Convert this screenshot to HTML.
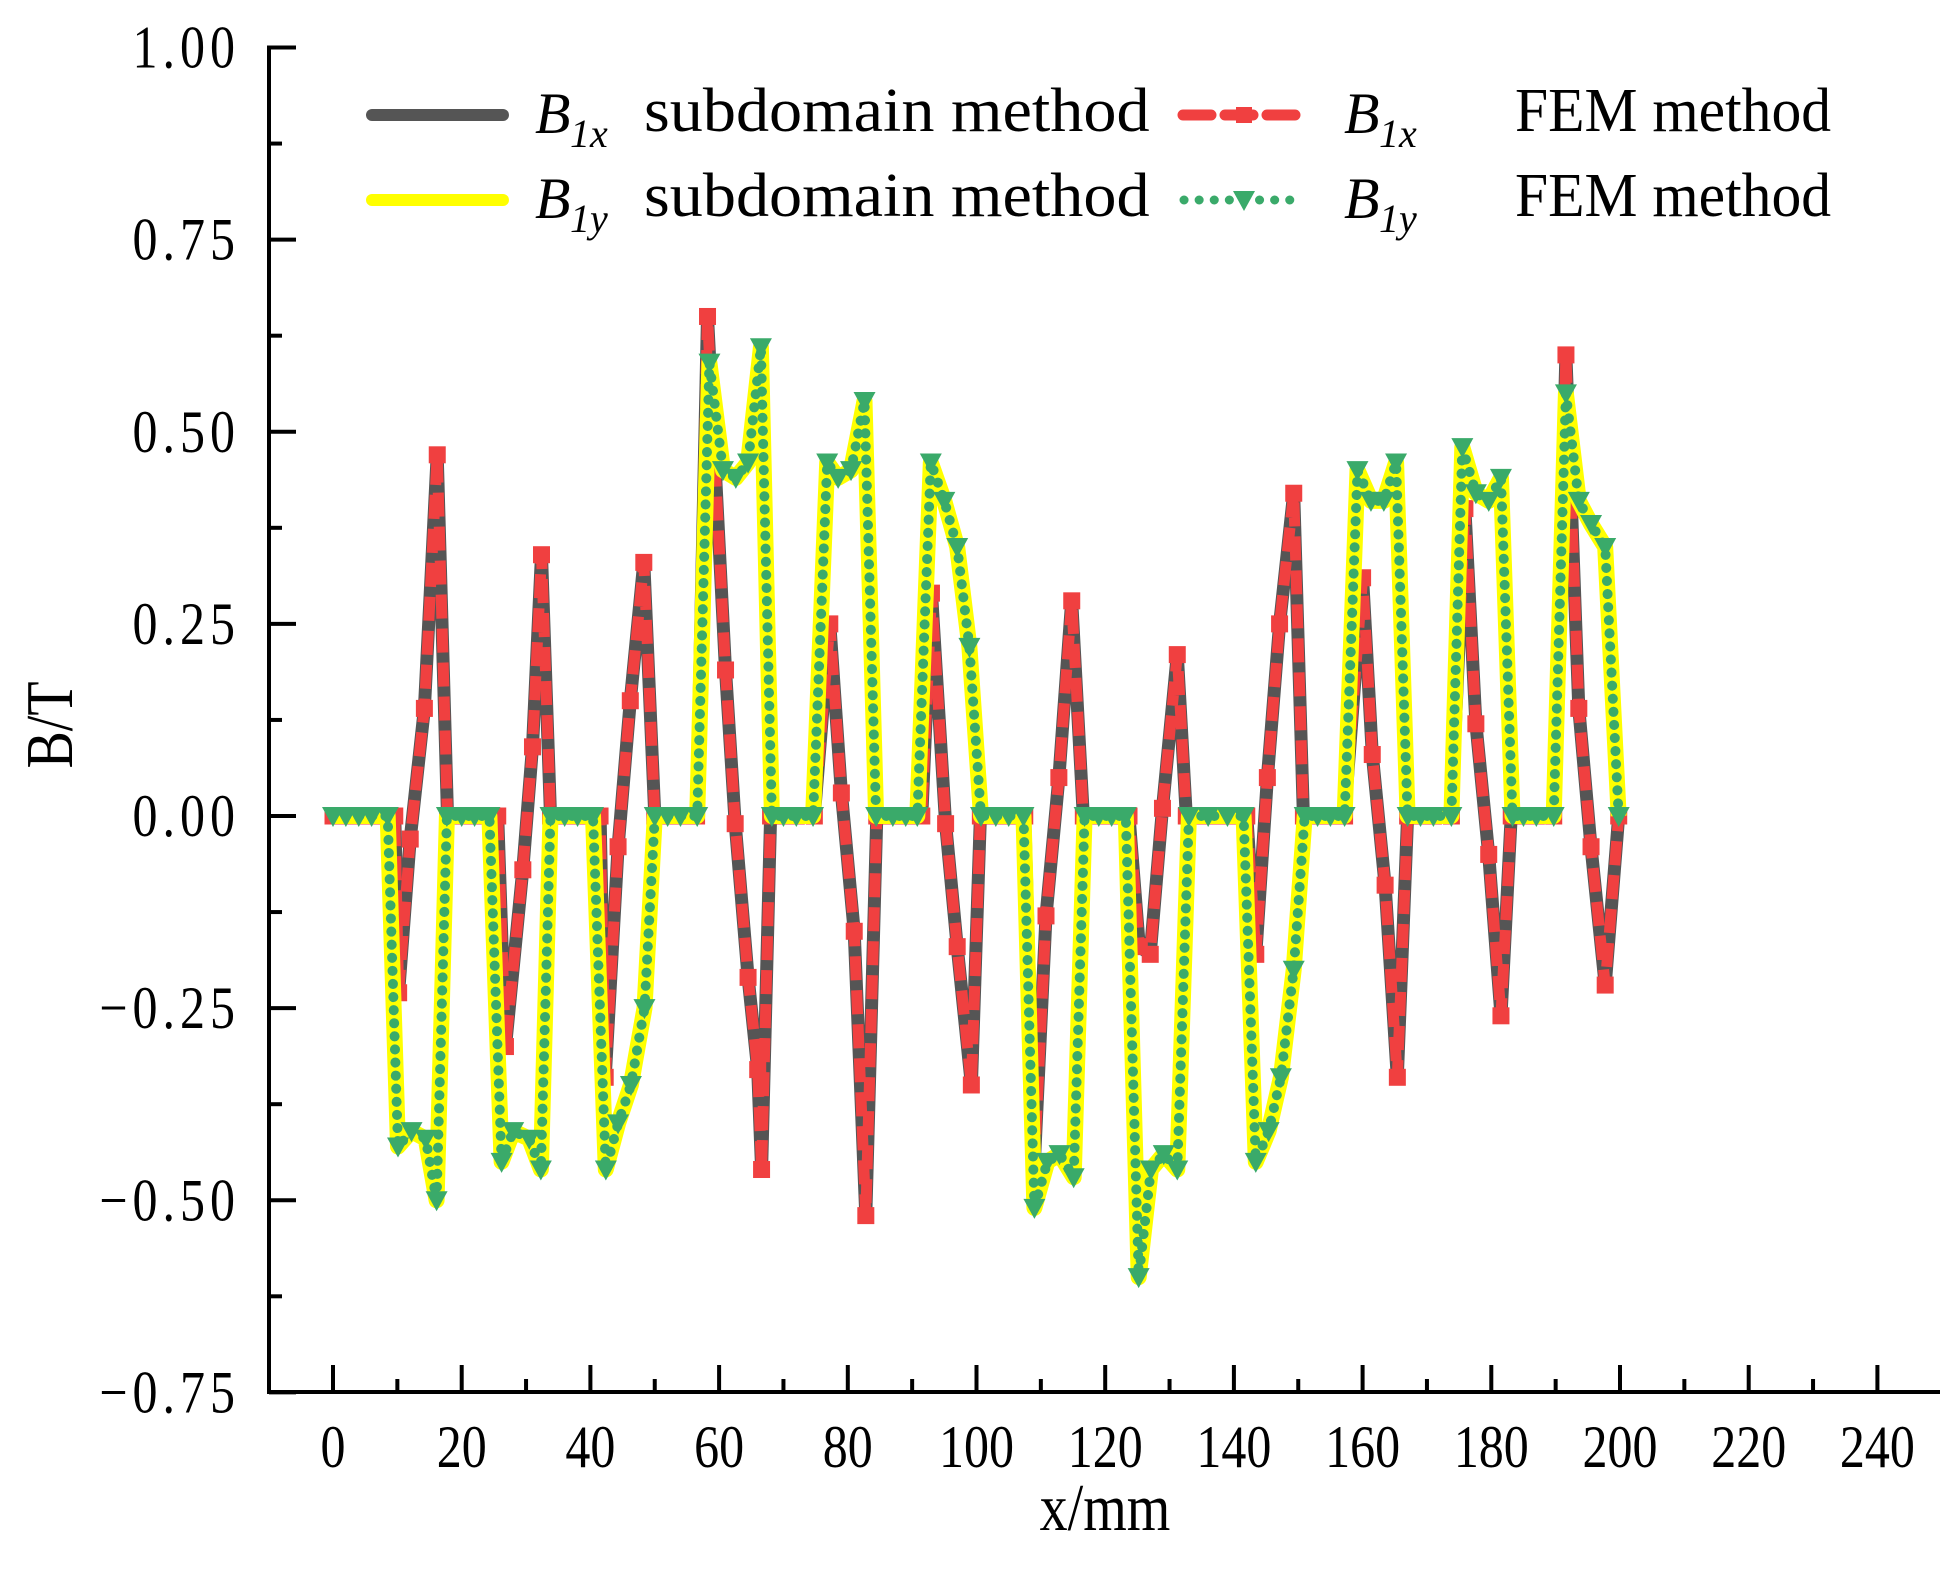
<!DOCTYPE html>
<html><head><meta charset="utf-8"><style>
html,body{margin:0;padding:0;background:#fff;}
svg{display:block;}
</style></head><body>
<svg id="chart" width="1958" height="1594" viewBox="0 0 1958 1594" xmlns="http://www.w3.org/2000/svg">
<g id="axes"></g>
<g id="series"></g>
<g id="legend"></g>
</svg>
<script>
const xTicks = [0,20,40,60,80,100,120,140,160,180,200,220,240];
const yTicks = [1.00,0.75,0.50,0.25,0.00,-0.25,-0.50,-0.75];
const yTickLabels = ["1.00","0.75","0.50","0.25","0.00","\u22120.25","\u22120.50","\u22120.75"];

const bxX = [0,2,4,6,8,9.6, 10.2,12,14.2,16.2, 17.8,20,22,24,25.6, 26.8,29.5,31,32.4, 33.8,36,38,40,41.5, 42.3,44.3,46.2,48.3, 50,52,54,56.5, 58.2,61,62.5,64.5,66,66.6, 68,70,72,74.8, 77.2,79,81,82.8, 84.5,87,89,91.5, 93,95.2,97,99.2, 100.6,103,105,107.5, 109,110.8,112.8,114.8, 116.6,119,121,123.7, 125.3,127,128.9,131.2, 132.6,135,137,139.5,142, 143.4,145.2,147.1,149.3, 150.8,153,155,157.2, 160,161.5,163.5,165.4, 167,169,171,173.8, 175.9,177.6,179.6,181.5, 183.1,185,187,189.7, 191.6,193.6,195.5,197.7, 199.8];
const bxSub = [0,0,0,0,0,0, -0.23,-0.03,0.14,0.47, 0,0,0,0,0, -0.30,-0.07,0.09,0.34, 0,0,0,0,0, -0.34,-0.04,0.15,0.33, 0,0,0,0, 0.65,0.19,-0.01,-0.21,-0.33,-0.46, 0,0,0,0, 0.25,0.03,-0.15,-0.52, 0,0,0,0, 0.29,-0.01,-0.17,-0.35, 0,0,0,0, -0.45,-0.13,0.05,0.28, 0,0,0,0, -0.17,-0.18,0.01,0.21, 0,0,0,0,0, -0.18,0.05,0.25,0.42, 0,0,0,0, 0.31,0.08,-0.09,-0.34, 0,0,0,0, 0.40,0.12,-0.05,-0.26, 0,0,0,0, 0.60,0.14,-0.04,-0.22, 0];
const bxFem = [0,0,0,0,0,0, -0.23,-0.03,0.14,0.47, 0,0,0,0,0, -0.30,-0.07,0.09,0.34, 0,0,0,0,0, -0.34,-0.04,0.15,0.33, 0,0,0,0, 0.65,0.19,-0.01,-0.21,-0.33,-0.46, 0,0,0,0, 0.25,0.03,-0.15,-0.52, 0,0,0,0, 0.29,-0.01,-0.17,-0.35, 0,0,0,0, -0.45,-0.13,0.05,0.28, 0,0,0,0, -0.17,-0.18,0.01,0.21, 0,0,0,0,0, -0.18,0.05,0.25,0.42, 0,0,0,0, 0.31,0.08,-0.09,-0.34, 0,0,0,0, 0.40,0.12,-0.05,-0.26, 0,0,0,0, 0.60,0.14,-0.04,-0.22, 0];

const byX = [0,2,4,6,8.5,10.1,12.2,14.4,16.1,17.7,20,22,24.3,26.2,28,30.5,32.3,33.8,36,38,40.4,42.4,44.3,46.3,48.4,50,52,54,56.6,58.5,60.6,62.6,64.5,66.5,68.2,70,72,74.6,76.8,78.5,80.5,82.6,84.4,87,89,90.8,92.9,95,97,98.9,100.7,103,105,107.3,109,111,112.9,115.1,116.8,119,121,123.2,125.2,127.1,129.1,131.2,133,136,139,141.5,143.4,145.4,147.3,149.3,151,153,155,157.2,159.2,161.3,163.3,165.2,167,169,171,173.8,175.5,177.6,179.6,181.5,183.3,185,187,189.7,191.6,193.6,195.5,197.7,199.8];
const bySub = [0,0,0,0,0,-0.43,-0.41,-0.42,-0.50,0,0,0,0,-0.45,-0.41,-0.42,-0.46,0,0,0,0,-0.46,-0.40,-0.35,-0.25,0,0,0,0,0.59,0.45,0.44,0.46,0.61,0,0,0,0,0.46,0.44,0.45,0.54,0,0,0,0,0.46,0.41,0.35,0.22,0,0,0,0,-0.51,-0.45,-0.44,-0.47,0,0,0,0,-0.60,-0.46,-0.44,-0.46,0,0,0,0,-0.45,-0.41,-0.34,-0.20,0,0,0,0,0.45,0.41,0.41,0.46,0,0,0,0,0.48,0.42,0.41,0.44,0,0,0,0,0.55,0.41,0.38,0.35,0];
const byFem = [0,0,0,0,0,-0.43,-0.41,-0.42,-0.50,0,0,0,0,-0.45,-0.41,-0.42,-0.46,0,0,0,0,-0.46,-0.40,-0.35,-0.25,0,0,0,0,0.59,0.45,0.44,0.46,0.61,0,0,0,0,0.46,0.44,0.45,0.54,0,0,0,0,0.46,0.41,0.35,0.22,0,0,0,0,-0.51,-0.45,-0.44,-0.47,0,0,0,0,-0.60,-0.46,-0.44,-0.46,0,0,0,0,-0.45,-0.41,-0.34,-0.20,0,0,0,0,0.45,0.41,0.41,0.46,0,0,0,0,0.48,0.42,0.41,0.44,0,0,0,0,0.55,0.41,0.38,0.35,0];

const NS = "http://www.w3.org/2000/svg";
const X0 = 333, PXMM = 6.435;
const Y0 = 816, PXU = 768.5;
function sx(v){ return X0 + v*PXMM; }
function sy(v){ return Y0 - v*PXU; }
function mk(tag, attrs, parent){
  const e = document.createElementNS(NS, tag);
  for (const k in attrs) e.setAttribute(k, attrs[k]);
  parent.appendChild(e);
  return e;
}
const axes = document.getElementById('axes');
const series = document.getElementById('series');
const legend = document.getElementById('legend');
const AXX = 269, AXY = 1392, AXTOP = sy(1.0), AXRIGHT = 1940;
const TF = '"Liberation Serif", serif';

let el = mk('line',{x1:AXX,y1:AXTOP-2,x2:AXX,y2:AXY+2,stroke:'#000','stroke-width':4},axes);


el = mk('line',{x1:AXX-2,y1:AXY,x2:AXRIGHT,y2:AXY,stroke:'#000','stroke-width':4},axes);



xTicks.forEach((t,i)=>{
  const x = sx(t);
  const tk = mk('line',{x1:x,y1:AXY,x2:x,y2:AXY-27,stroke:'#000','stroke-width':4},axes);
  
  
  if (i < xTicks.length-1){
    const xm = sx(t+10);
    const mt = mk('line',{x1:xm,y1:AXY,x2:xm,y2:AXY-13,stroke:'#000','stroke-width':4},axes);
    
    
  }
  const lb = mk('text',{x:0,y:0,'text-anchor':'middle','font-family':TF,'font-size':50,transform:'translate('+x+',1467) scale(1,1.2)'},axes);
  lb.textContent = String(t);
  
  
});
yTicks.forEach((t,i)=>{
  const y = sy(t);
  const tk = mk('line',{x1:AXX,y1:y,x2:AXX+27,y2:y,stroke:'#000','stroke-width':4},axes);
  
  
  if (i < yTicks.length-1){
    const ym = sy(t-0.125);
    const mt = mk('line',{x1:AXX,y1:ym,x2:AXX+13,y2:ym,stroke:'#000','stroke-width':4},axes);
    
    
  }
  const lb = mk('text',{x:0,y:0,'text-anchor':'end','font-family':TF,'font-size':50,'letter-spacing':'5',transform:'translate(240,'+(y+20)+') scale(1,1.2)'},axes);
  lb.textContent = yTickLabels[i];
  
  
});
el = mk('text',{x:0,y:0,'text-anchor':'middle','font-family':TF,'font-size':56,transform:'translate(1105,1530) scale(1,1.2)'},axes);
el.textContent = 'x/mm';


el = mk('text',{x:0,y:0,'text-anchor':'middle','font-family':TF,'font-size':56,transform:'translate(72,725) rotate(-90) scale(1,1.2)'},axes);
el.textContent = 'B/T';



function pts(xs, ys){ return xs.map((x,i)=>sx(x).toFixed(1)+','+sy(ys[i]).toFixed(1)).join(' '); }

el = mk('polyline',{points:pts(bxX,bxSub),fill:'none',stroke:'#555555','stroke-width':13,'stroke-linejoin':'round'},series);


el = mk('polyline',{points:pts(bxX,bxFem),fill:'none',stroke:'#f04040','stroke-width':11,'stroke-dasharray':'24 10','stroke-linejoin':'round'},series);


bxX.forEach((x,i)=>{
  const s = mk('rect',{x:sx(x)-8.5,y:sy(bxFem[i])-8.5,width:17,height:17,fill:'#f04040'},series);
  
  
});
el = mk('polyline',{points:pts(byX,bySub),fill:'none',stroke:'#ffff00','stroke-width':16,'stroke-linejoin':'round'},series);


el = mk('polyline',{points:pts(byX,byFem),fill:'none',stroke:'#3aaa6a','stroke-width':10,'stroke-dasharray':'0.1 13','stroke-linecap':'round','stroke-linejoin':'round'},series);


byX.forEach((x,i)=>{
  const cx = sx(x), cy = sy(byFem[i]);
  const t = mk('polygon',{points:(cx-11)+','+(cy-9)+' '+(cx+11)+','+(cy-9)+' '+cx+','+(cy+11),fill:'#3aaa6a'},series);
  
  
});

function legText(x,y,sub,rest,restX,name){
  const g = mk('g',{},legend);
  
  
  const b = mk('text',{x:x,y:y,'font-family':TF,'font-size':58,'font-style':'italic'},g);
  b.textContent = 'B';
  const s = mk('text',{x:x+35,y:y+14,'font-family':TF,'font-size':40,'font-style':'italic'},g);
  s.textContent = sub;
  const r = mk('text',{x:0,y:0,'font-family':TF,'font-size':50,textLength:rest.length*31.6,lengthAdjust:'spacingAndGlyphs',transform:'translate('+restX+','+(y-2)+') scale(1,1.25)'},g);
  r.textContent = rest;
}
el = mk('line',{x1:372,y1:115,x2:503,y2:115,stroke:'#555555','stroke-width':12,'stroke-linecap':'round'},legend);


legText(535,133,'1x','subdomain method',644,'legend-b1x-subdomain-label');
el = mk('line',{x1:372,y1:200,x2:503,y2:200,stroke:'#ffff00','stroke-width':12,'stroke-linecap':'round'},legend);


legText(535,218,'1y','subdomain method',644,'legend-b1y-subdomain-label');
el = mk('line',{x1:1183,y1:115,x2:1297,y2:115,stroke:'#f04040','stroke-width':11,'stroke-dasharray':'28 14','stroke-linecap':'round'},legend);


el = mk('rect',{x:1236,y:107,width:16,height:16,fill:'#f04040'},legend);


legText(1344,133,'1x','FEM method',1515,'legend-b1x-fem-label');
el = mk('line',{x1:1184,y1:200,x2:1296,y2:200,stroke:'#3aaa6a','stroke-width':9,'stroke-dasharray':'0.1 15','stroke-linecap':'round'},legend);


el = mk('polygon',{points:'1233,191 1255,191 1244,211',fill:'#3aaa6a'},legend);


legText(1344,218,'1y','FEM method',1515,'legend-b1y-fem-label');
</script>
</body></html>
